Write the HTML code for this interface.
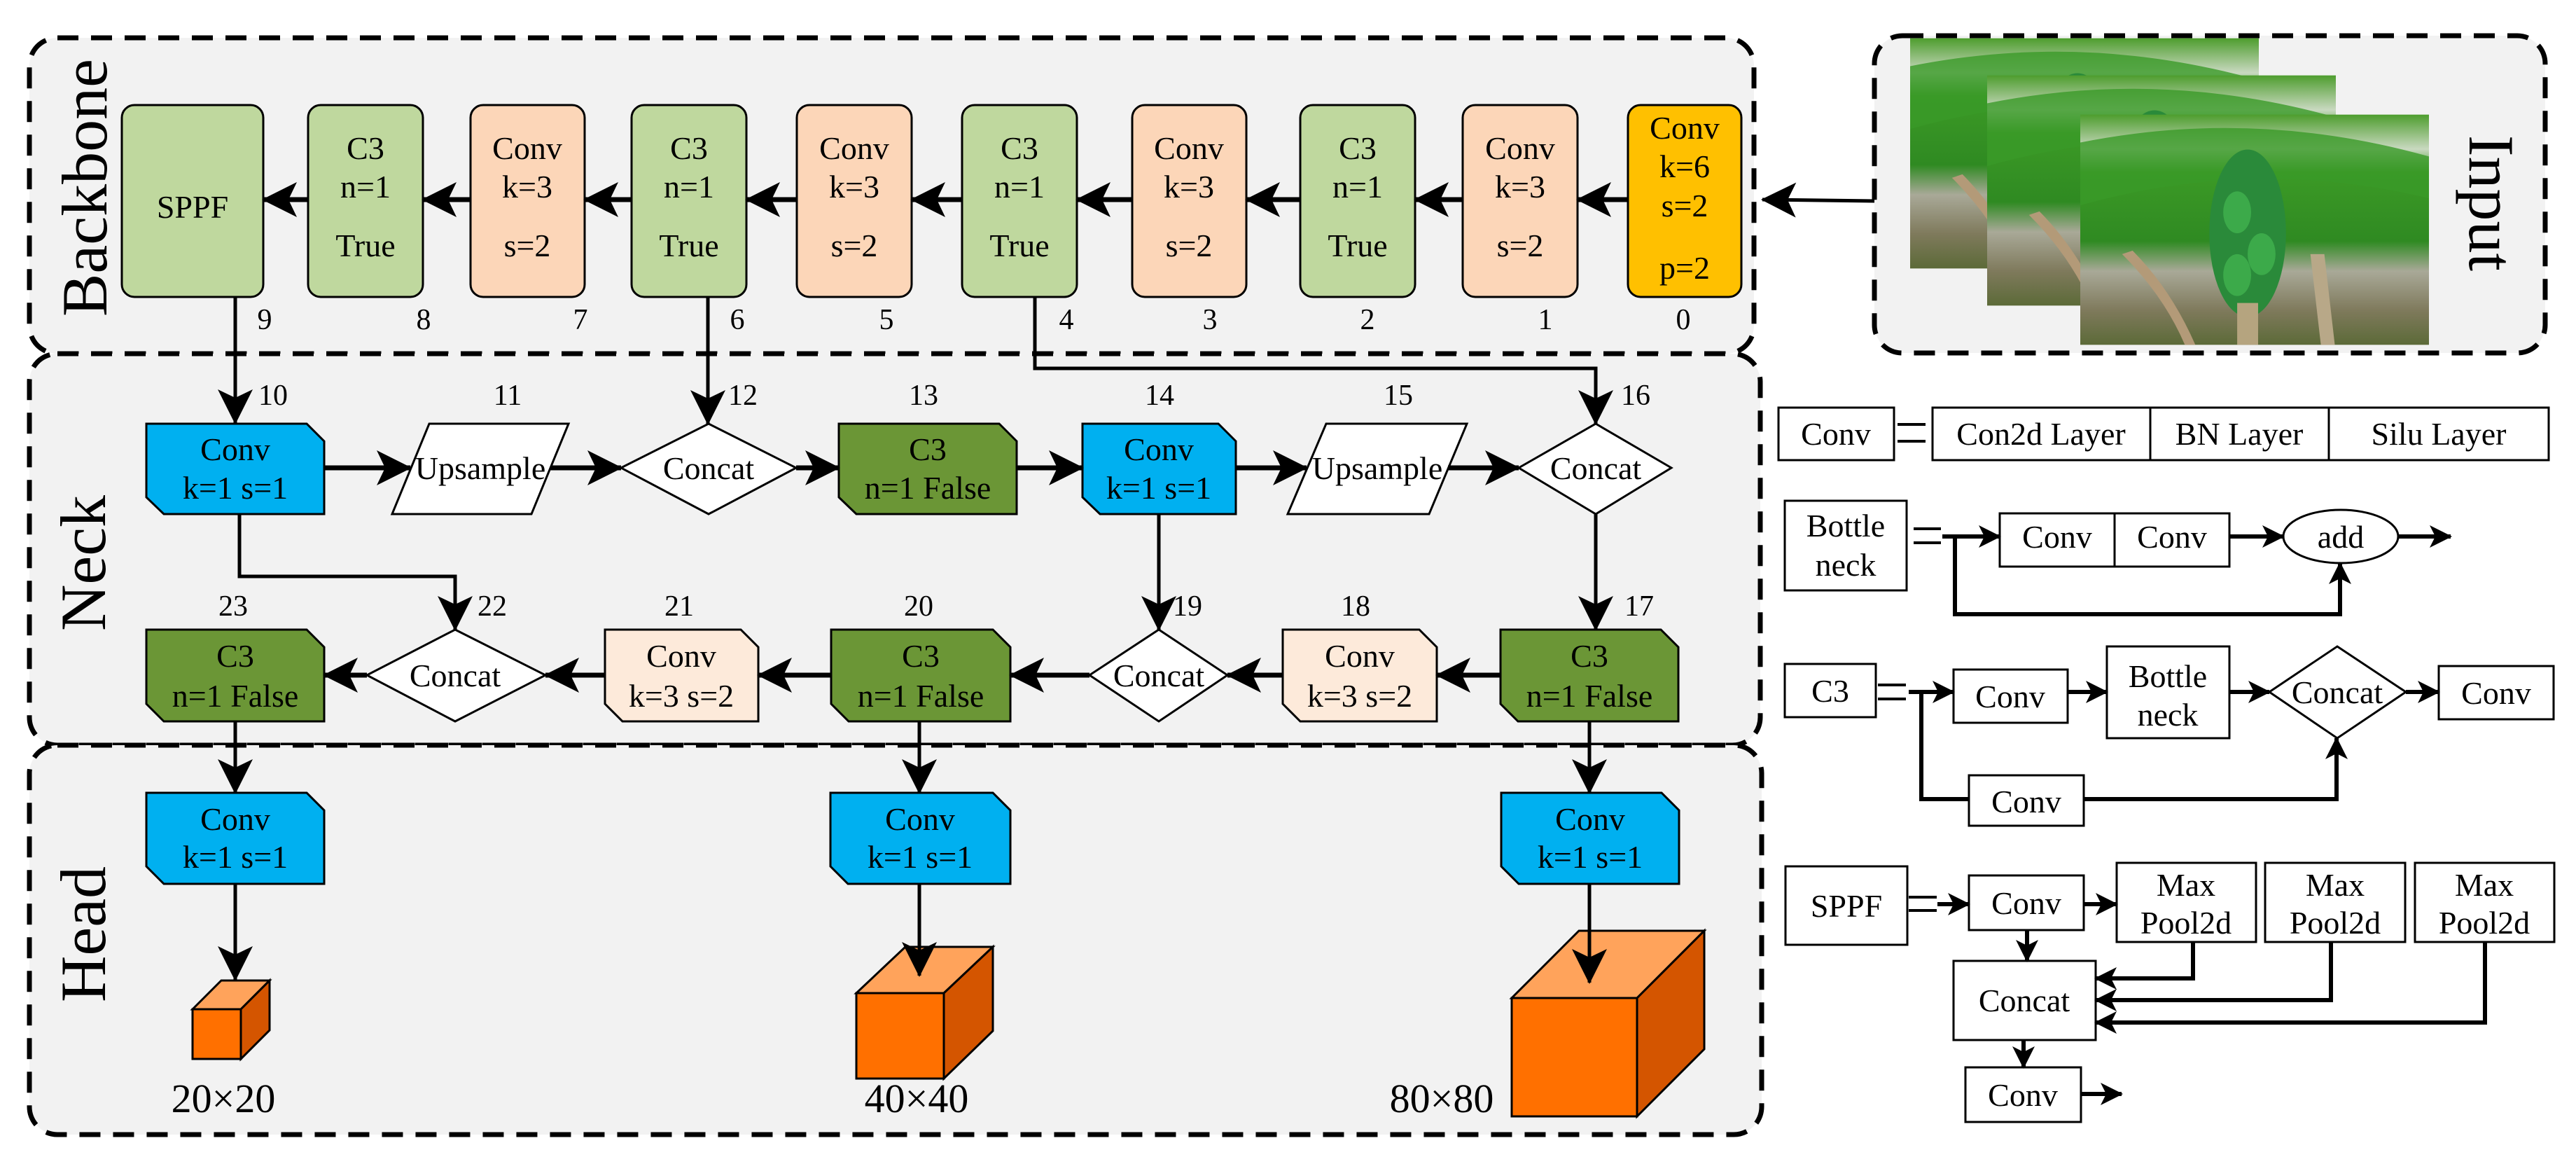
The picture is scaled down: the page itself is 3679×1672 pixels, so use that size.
<!DOCTYPE html>
<html><head><meta charset="utf-8"><style>
html,body{margin:0;padding:0;background:#fff}
svg{display:block}
svg, svg text{font-family:"Liberation Serif","DejaVu Serif","Times New Roman",serif}
</style></head><body>
<svg width="3679" height="1672" viewBox="0 0 3679 1672" xmlns="http://www.w3.org/2000/svg" font-family="Liberation Serif, DejaVu Serif, serif">
<defs>
<marker id="ah" markerUnits="userSpaceOnUse" markerWidth="60" markerHeight="60" refX="48" refY="25" orient="auto">
<path d="M0,0 L50,25 L0,50 L12,25 Z" fill="#000"/></marker>
<marker id="as" markerUnits="userSpaceOnUse" markerWidth="40" markerHeight="40" refX="30" refY="16" orient="auto">
<path d="M0,0 L32,16 L0,32 L8,16 Z" fill="#000"/></marker>
<linearGradient id="pg" x1="0" y1="0" x2="0" y2="1">
<stop offset="0" stop-color="#4e9d2e"/><stop offset="0.15" stop-color="#c9d9c0"/><stop offset="0.25" stop-color="#3c9a26"/>
<stop offset="0.55" stop-color="#2f8a22"/><stop offset="0.68" stop-color="#a9a998"/><stop offset="0.85" stop-color="#7f7a5c"/><stop offset="1" stop-color="#5c6a38"/></linearGradient>
<symbol id="photo" viewBox="0 0 500 330">
<rect width="500" height="330" fill="url(#pg)"/>
<path d="M0,40 Q250,-10 500,60 L500,120 Q250,60 0,130Z" fill="#3a9a28" opacity="0.8"/>
<path d="M60,200 Q120,260 150,330 L165,330 Q130,250 75,195Z" fill="#b39a78"/>
<path d="M330,200 L345,330 L365,330 L350,200Z" fill="#b8a888"/>
<ellipse cx="240" cy="170" rx="55" ry="120" fill="#2a8a3a"/>
<ellipse cx="225" cy="140" rx="20" ry="30" fill="#3caa4a"/>
<ellipse cx="260" cy="200" rx="20" ry="30" fill="#3caa4a"/>
<ellipse cx="225" cy="230" rx="20" ry="30" fill="#3caa4a"/>
<rect x="225" y="270" width="30" height="60" fill="#b5a47f"/>
</symbol>
</defs>

<g fill="#f2f2f2" stroke="#000" stroke-width="7" stroke-dasharray="30 18">
<rect x="42" y="54" width="2463" height="451" rx="40"/>
<rect x="42" y="505" width="2472" height="559" rx="40"/>
<rect x="42" y="1064" width="2474" height="556" rx="40"/>
<rect x="2677" y="51" width="958" height="453" rx="40"/>
</g>

<g font-size="92">
<text transform="translate(152,268) rotate(-90)" text-anchor="middle">Backbone</text>
<text transform="translate(150,804) rotate(-90)" text-anchor="middle">Neck</text>
<text transform="translate(150,1334) rotate(-90)" text-anchor="middle">Head</text>
<text transform="translate(3527,290) rotate(90)" text-anchor="middle">Input</text>
</g>

<use href="#photo" x="2728" y="54" width="498" height="330"/>
<use href="#photo" x="2838" y="107" width="498" height="330"/>
<use href="#photo" x="2971" y="163" width="498" height="330"/>

<g stroke="#000" stroke-width="3">
<rect x="174" y="150" width="202" height="274" rx="18" fill="#bfd89e"/>
<rect x="440" y="150" width="164" height="274" rx="18" fill="#bfd89e"/>
<rect x="672" y="150" width="163" height="274" rx="18" fill="#fcd6b8"/>
<rect x="902" y="150" width="164" height="274" rx="18" fill="#bfd89e"/>
<rect x="1138" y="150" width="164" height="274" rx="18" fill="#fcd6b8"/>
<rect x="1374" y="150" width="164" height="274" rx="18" fill="#bfd89e"/>
<rect x="1617" y="150" width="163" height="274" rx="18" fill="#fcd6b8"/>
<rect x="1857" y="150" width="164" height="274" rx="18" fill="#bfd89e"/>
<rect x="2089" y="150" width="164" height="274" rx="18" fill="#fcd6b8"/>
<rect x="2325" y="150" width="162" height="274" rx="18" fill="#ffc000"/>
</g>
<g font-size="46" text-anchor="middle">
<text x="275" y="311">SPPF</text>
<text x="522" y="227">C3</text><text x="522" y="282">n=1</text><text x="522" y="366">True</text>
<text x="753" y="227">Conv</text><text x="753" y="282">k=3</text><text x="753" y="366">s=2</text>
<text x="984" y="227">C3</text><text x="984" y="282">n=1</text><text x="984" y="366">True</text>
<text x="1220" y="227">Conv</text><text x="1220" y="282">k=3</text><text x="1220" y="366">s=2</text>
<text x="1456" y="227">C3</text><text x="1456" y="282">n=1</text><text x="1456" y="366">True</text>
<text x="1698" y="227">Conv</text><text x="1698" y="282">k=3</text><text x="1698" y="366">s=2</text>
<text x="1939" y="227">C3</text><text x="1939" y="282">n=1</text><text x="1939" y="366">True</text>
<text x="2171" y="227">Conv</text><text x="2171" y="282">k=3</text><text x="2171" y="366">s=2</text>
<text x="2406" y="198">Conv</text><text x="2406" y="253">k=6</text><text x="2406" y="309">s=2</text><text x="2406" y="398">p=2</text>
</g>
<g font-size="42" text-anchor="middle">
<text x="378" y="470">9</text><text x="605" y="470">8</text><text x="829" y="470">7</text><text x="1053" y="470">6</text><text x="1266" y="470">5</text>
<text x="1523" y="470">4</text><text x="1728" y="470">3</text><text x="1953" y="470">2</text><text x="2207" y="470">1</text><text x="2404" y="470">0</text>
<text x="390" y="578">10</text><text x="725" y="578">11</text><text x="1061" y="578">12</text><text x="1319" y="578">13</text><text x="1656" y="578">14</text><text x="1997" y="578">15</text><text x="2336" y="578">16</text>
<text x="333" y="879">23</text><text x="703" y="879">22</text><text x="970" y="879">21</text><text x="1312" y="879">20</text><text x="1696" y="879">19</text><text x="1936" y="879">18</text><text x="2341" y="879">17</text>
</g>

<g stroke="#000" stroke-width="7" marker-end="url(#ah)">
<line x1="2325" y1="285" x2="2253" y2="285"/>
<line x1="2089" y1="285" x2="2021" y2="285"/>
<line x1="1857" y1="285" x2="1780" y2="285"/>
<line x1="1617" y1="285" x2="1538" y2="285"/>
<line x1="1374" y1="285" x2="1302" y2="285"/>
<line x1="1138" y1="285" x2="1066" y2="285"/>
<line x1="902" y1="285" x2="835" y2="285"/>
<line x1="672" y1="285" x2="604" y2="285"/>
<line x1="440" y1="285" x2="376" y2="285"/>
</g>
<line x1="2677" y1="287" x2="2517" y2="285" stroke="#000" stroke-width="5" marker-end="url(#ah)"/>

<g stroke="#000" stroke-width="5" fill="none">
<line x1="336" y1="424" x2="336" y2="604" marker-end="url(#ah)"/>
<line x1="1011" y1="424" x2="1011" y2="605" marker-end="url(#ah)"/>
<polyline points="1478,424 1478,526 2279,526 2279,605" marker-end="url(#ah)"/>
<line x1="2279" y1="734" x2="2279" y2="899" marker-end="url(#ah)"/>
<line x1="1655" y1="734" x2="1655" y2="899" marker-end="url(#ah)"/>
<polyline points="342,734 342,823 650,823 650,899" marker-end="url(#ah)"/>
<line x1="336" y1="1030" x2="336" y2="1132" marker-end="url(#ah)"/>
<line x1="1313" y1="1030" x2="1313" y2="1132" marker-end="url(#ah)"/>
<line x1="2270" y1="1030" x2="2270" y2="1132" marker-end="url(#ah)"/>
</g>

<g stroke="#000" stroke-width="3">
<path d="M209,605 H438 L463,630 V734 H234 L209,710 Z" fill="#00b0f0"/>
<path d="M613,605 H812 L759,734 H560 Z" fill="#fff"/>
<path d="M1012,605 L1137,668 L1012,734 L887,668 Z" fill="#fff"/>
<path d="M1198,605 H1427 L1452,630 V734 H1223 L1198,710 Z" fill="#6b9636"/>
<path d="M1546,605 H1740 L1765,630 V734 H1571 L1546,710 Z" fill="#00b0f0"/>
<path d="M1894,605 H2095 L2041,734 H1839 Z" fill="#fff"/>
<path d="M2279,605 L2387,668 L2279,734 L2169,668 Z" fill="#fff"/>
<path d="M2143,899 H2372 L2397,924 V1030 H2168 L2143,1005 Z" fill="#6b9636"/>
<path d="M1832,899 H2027 L2052,924 V1030 H1857 L1832,1005 Z" fill="#fdeada"/>
<path d="M1655,899 L1753,964 L1655,1030 L1556,964 Z" fill="#fff"/>
<path d="M1187,899 H1418 L1443,924 V1030 H1212 L1187,1005 Z" fill="#6b9636"/>
<path d="M864,899 H1058 L1083,924 V1030 H889 L864,1005 Z" fill="#fdeada"/>
<path d="M650,899 L779,964 L650,1030 L524,964 Z" fill="#fff"/>
<path d="M209,899 H438 L463,924 V1030 H234 L209,1005 Z" fill="#6b9636"/>
<path d="M209,1132 H438 L463,1157 V1262 H234 L209,1237 Z" fill="#00b0f0"/>
<path d="M1186,1132 H1418 L1443,1157 V1262 H1211 L1186,1237 Z" fill="#00b0f0"/>
<path d="M2144,1132 H2373 L2398,1157 V1262 H2169 L2144,1237 Z" fill="#00b0f0"/>
</g>
<g font-size="46" text-anchor="middle">
<text x="336" y="657">Conv</text><text x="336" y="712">k=1 s=1</text>
<text x="686" y="684">Upsample</text>
<text x="1012" y="684">Concat</text>
<text x="1325" y="657">C3</text><text x="1325" y="712">n=1 False</text>
<text x="1655" y="657">Conv</text><text x="1655" y="712">k=1 s=1</text>
<text x="1967" y="684">Upsample</text>
<text x="2279" y="684">Concat</text>
<text x="2270" y="952">C3</text><text x="2270" y="1009">n=1 False</text>
<text x="1942" y="952">Conv</text><text x="1942" y="1009">k=3 s=2</text>
<text x="1655" y="980">Concat</text>
<text x="1315" y="952">C3</text><text x="1315" y="1009">n=1 False</text>
<text x="973" y="952">Conv</text><text x="973" y="1009">k=3 s=2</text>
<text x="650" y="980">Concat</text>
<text x="336" y="952">C3</text><text x="336" y="1009">n=1 False</text>
<text x="336" y="1185">Conv</text><text x="336" y="1239">k=1 s=1</text>
<text x="1314" y="1185">Conv</text><text x="1314" y="1239">k=1 s=1</text>
<text x="2271" y="1185">Conv</text><text x="2271" y="1239">k=1 s=1</text>
</g>

<g stroke="#000" stroke-width="7" marker-end="url(#ah)">
<line x1="463" y1="668" x2="586" y2="668"/>
<line x1="786" y1="668" x2="887" y2="668"/>
<line x1="1137" y1="668" x2="1198" y2="668"/>
<line x1="1452" y1="668" x2="1546" y2="668"/>
<line x1="1765" y1="668" x2="1866" y2="668"/>
<line x1="2068" y1="668" x2="2169" y2="668"/>
<line x1="2143" y1="964" x2="2052" y2="964"/>
<line x1="1832" y1="964" x2="1753" y2="964"/>
<line x1="1556" y1="964" x2="1443" y2="964"/>
<line x1="1187" y1="964" x2="1083" y2="964"/>
<line x1="864" y1="964" x2="779" y2="964"/>
<line x1="524" y1="964" x2="463" y2="964"/>
</g>

<g stroke="#000" stroke-width="3">
<rect x="275" y="1441" width="69" height="71" fill="#ff7000"/>
<path d="M275,1441 L316,1400 L385,1400 L344,1441 Z" fill="#ffa35b"/>
<path d="M344,1441 L385,1400 L385,1471 L344,1512 Z" fill="#d45500"/>
<rect x="1223" y="1418" width="125" height="122" fill="#ff7000"/>
<path d="M1223,1418 L1293,1352 L1418,1352 L1348,1418 Z" fill="#ffa35b"/>
<path d="M1348,1418 L1418,1352 L1418,1472 L1348,1540 Z" fill="#d45500"/>
<rect x="2159" y="1425" width="179" height="169" fill="#ff7000"/>
<path d="M2159,1425 L2255,1329 L2434,1329 L2338,1425 Z" fill="#ffa35b"/>
<path d="M2338,1425 L2434,1329 L2434,1498 L2338,1594 Z" fill="#d45500"/>
</g>
<g stroke="#000" stroke-width="5" marker-end="url(#ah)">
<line x1="336" y1="1262" x2="336" y2="1399"/>
<line x1="1313" y1="1262" x2="1313" y2="1393"/>
<line x1="2270" y1="1262" x2="2270" y2="1403"/>
</g>
<g font-size="58" text-anchor="middle">
<text x="319" y="1588">20×20</text>
<text x="1309" y="1588">40×40</text>
<text x="2059" y="1588">80×80</text>
</g>

<g stroke="#000" stroke-width="3" fill="#fff">
<rect x="2540" y="582" width="165" height="75"/>
<rect x="2760" y="582" width="880" height="75"/>
<line x1="3071" y1="582" x2="3071" y2="657"/>
<line x1="3326" y1="582" x2="3326" y2="657"/>
<rect x="2549" y="715" width="174" height="128"/>
<rect x="2856" y="733" width="328" height="76"/>
<line x1="3020" y1="733" x2="3020" y2="809"/>
<ellipse cx="3343" cy="766" rx="82" ry="38"/>
<rect x="2549" y="948" width="130" height="76"/>
<rect x="2790" y="956" width="163" height="76"/>
<rect x="3009" y="923" width="175" height="131"/>
<path d="M3338,923 L3436,988 L3338,1054 L3241,988 Z"/>
<rect x="3483" y="951" width="164" height="76"/>
<rect x="2812" y="1107" width="164" height="72"/>
<rect x="2550" y="1237" width="174" height="112"/>
<rect x="2812" y="1250" width="164" height="78"/>
<rect x="3023" y="1232" width="199" height="113"/>
<rect x="3235" y="1232" width="200" height="113"/>
<rect x="3449" y="1232" width="199" height="113"/>
<rect x="2790" y="1372" width="203" height="113"/>
<rect x="2807" y="1524" width="165" height="78"/>
</g>
<g stroke="#000" stroke-width="4">
<line x1="2710" y1="606" x2="2750" y2="606"/><line x1="2710" y1="630" x2="2750" y2="630"/>
<line x1="2733" y1="755" x2="2772" y2="755"/><line x1="2733" y1="775" x2="2772" y2="775"/>
<line x1="2682" y1="978" x2="2722" y2="978"/><line x1="2682" y1="998" x2="2722" y2="998"/>
<line x1="2726" y1="1281" x2="2766" y2="1281"/><line x1="2726" y1="1300" x2="2766" y2="1300"/>
</g>
<g stroke="#000" stroke-width="6" fill="none">
<line x1="2774" y1="766" x2="2856" y2="766" marker-end="url(#as)"/>
<line x1="3184" y1="766" x2="3261" y2="766" marker-end="url(#as)"/>
<line x1="3425" y1="766" x2="3500" y2="766" marker-end="url(#as)"/>
<polyline points="2792,766 2792,877 3342,877 3342,804" marker-end="url(#as)"/>
<line x1="2726" y1="988" x2="2790" y2="988" marker-end="url(#as)"/>
<line x1="2953" y1="988" x2="3009" y2="988" marker-end="url(#as)"/>
<line x1="3184" y1="988" x2="3241" y2="988" marker-end="url(#as)"/>
<line x1="3436" y1="988" x2="3483" y2="988" marker-end="url(#as)"/>
<polyline points="2744,988 2744,1141 2812,1141"/>
<polyline points="2976,1141 3337,1141 3337,1054" marker-end="url(#as)"/>
<line x1="2767" y1="1291" x2="2812" y2="1291" marker-end="url(#as)"/>
<line x1="2976" y1="1291" x2="3023" y2="1291" marker-end="url(#as)"/>
<line x1="2895" y1="1328" x2="2895" y2="1372" marker-end="url(#as)"/>
<polyline points="3132,1345 3132,1397 2993,1397" marker-end="url(#as)"/>
<polyline points="3329,1345 3329,1428 2993,1428" marker-end="url(#as)"/>
<polyline points="3549,1345 3549,1460 2993,1460" marker-end="url(#as)"/>
<line x1="2890" y1="1485" x2="2890" y2="1524" marker-end="url(#as)"/>
<line x1="2972" y1="1562" x2="3030" y2="1562" marker-end="url(#as)"/>
</g>
<g font-size="46" text-anchor="middle">
<text x="2622" y="635">Conv</text>
<text x="2915" y="635">Con2d Layer</text>
<text x="3198" y="635">BN Layer</text>
<text x="3483" y="635">Silu Layer</text>
<text x="2636" y="766">Bottle</text><text x="2636" y="822">neck</text>
<text x="2938" y="782">Conv</text><text x="3102" y="782">Conv</text>
<text x="3343" y="782">add</text>
<text x="2614" y="1002">C3</text>
<text x="2871" y="1010">Conv</text>
<text x="3096" y="981">Bottle</text><text x="3096" y="1036">neck</text>
<text x="3338" y="1004">Concat</text>
<text x="3565" y="1005">Conv</text>
<text x="2894" y="1160">Conv</text>
<text x="2637" y="1309">SPPF</text>
<text x="2894" y="1305">Conv</text>
<text x="3122" y="1279">Max</text><text x="3122" y="1333">Pool2d</text>
<text x="3335" y="1279">Max</text><text x="3335" y="1333">Pool2d</text>
<text x="3548" y="1279">Max</text><text x="3548" y="1333">Pool2d</text>
<text x="2891" y="1444">Concat</text>
<text x="2889" y="1579">Conv</text>
</g>
</svg>
</body></html>
